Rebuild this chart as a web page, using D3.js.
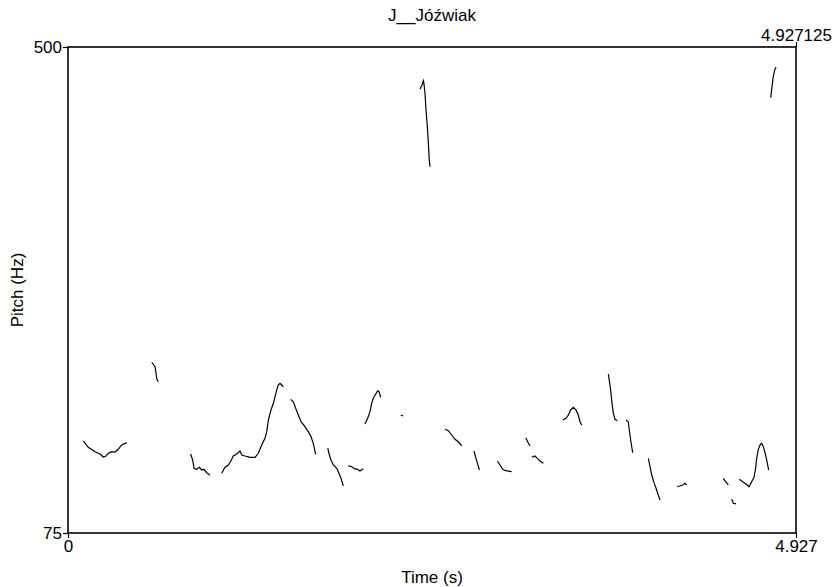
<!DOCTYPE html>
<html>
<head>
<meta charset="utf-8">
<script src="https://cdn.jsdelivr.net/npm/d3@7"></script>
<style>
body{margin:0;background:#fff;}
text{font-family:"Liberation Sans",Arial,sans-serif;font-size:17px;fill:#000;}
</style>
</head>
<body>
<svg id="chart"></svg>
<script>
var chartTitle = "J__Jóźwiak";
var timeRange = [0, 4.927125];//whole sound
var pitchRange = [75, 500];//Hz
var xTickLabels = ["0", "4.927"];
var yTickLabels = ["75", "500"];
var topRightLabel = "4.927125";

//pitch track, null = unvoiced frame (breaks the line)
var pitchTime = [
0.104,0.137,0.183,0.217,0.239,0.257,0.273,0.296,0.318,0.340,0.363,0.397,null,
0.567,0.589,0.596,0.600,0.611,null,
0.830,0.844,0.853,0.871,0.889,0.905,0.920,0.939,0.961,null,
1.040,1.063,1.085,1.103,1.119,1.142,1.164,1.176,1.198,1.232,1.266,1.288,1.311,1.333,1.345,1.356,1.374,1.390,1.401,1.413,1.423,1.435,1.446,1.457,null,
1.507,1.525,1.541,1.559,1.577,1.604,1.626,1.645,1.660,1.676,null,
1.758,1.769,1.780,1.796,1.819,1.834,1.848,1.863,null,
1.897,1.920,1.942,1.961,1.976,1.999,null,
2.010,2.028,2.044,2.055,2.066,2.083,2.096,2.105,2.116,null,
2.252,2.269,null,
2.382,2.396,2.405,2.409,2.416,2.423,2.432,2.439,2.445,2.450,null,
2.552,2.574,2.597,2.619,2.642,2.665,null,
2.748,2.761,2.773,2.784,null,
2.906,2.924,2.942,2.964,3.003,null,
3.098,3.111,3.127,null,
3.138,3.161,3.176,3.195,3.217,null,
3.348,3.371,3.386,3.402,3.420,3.438,3.454,3.465,3.477,null,
3.657,3.668,3.675,3.682,3.691,3.702,3.718,null,
3.777,3.792,3.799,3.808,3.822,null,
3.928,3.939,3.951,3.966,3.980,3.995,4.007,null,
4.124,4.142,4.160,4.176,4.187,null,
4.435,4.451,4.469,null,
4.492,4.503,4.521,null,
4.543,4.566,4.589,4.609,4.627,4.643,4.654,4.661,4.672,4.684,4.695,4.706,4.719,4.729,4.742,null,
4.756,4.765,4.773,4.783,4.792
];
var pitchHz = [
155.5,149.9,146.1,144.1,141.5,142.3,144.7,146.1,145.8,148.2,152.0,154.0,null,
224.3,220.4,214.7,210.3,207.3,null,
144.1,138.8,131.6,130.7,132.5,130.1,130.7,127.7,125.7,null,
127.2,132.5,134.5,138.2,142.3,144.1,146.7,143.2,142.3,141.2,141.2,144.7,152.0,157.8,163.6,173.8,182.6,188.4,194.2,200.1,204.4,205.9,204.4,202.9,null,
191.9,189.8,184.1,178.2,172.3,168.0,163.6,159.2,153.4,143.8,null,
149.1,143.2,138.8,134.5,131.6,127.2,122.8,116.1,null,
133.9,133.0,131.0,130.7,129.2,131.2,null,
170.3,175.3,181.1,188.4,192.8,196.6,199.4,198.6,193.7,null,
178.2,177.3,null,
463.0,466.8,470.5,468.3,459.5,444.9,430.3,415.8,401.2,395.3,null,
165.7,164.5,160.7,156.9,154.8,151.3,null,
146.7,140.3,135.3,130.1,null,
138.0,134.5,130.7,129.5,128.6,null,
158.3,154.8,151.1,null,
141.2,142.3,140.3,138.0,136.0,null,
173.8,175.3,178.2,182.6,184.9,182.6,178.2,172.3,169.4,null,
214.0,204.4,197.2,188.4,179.7,174.4,173.2,null,
173.8,172.3,165.1,156.3,145.2,null,
140.3,133.0,125.7,119.0,114.1,108.2,103.9,null,
115.5,116.1,117.0,118.5,117.0,null,
122.8,119.9,117.0,null,
104.5,101.0,100.4,null,
122.0,119.9,117.9,115.5,119.9,123.7,131.6,140.3,148.2,152.0,153.4,150.5,144.7,138.8,130.1,null,
455.7,465.3,474.0,479.9,482.3
];

function drawPitch(id){
    var svgWidth = 840;
    var svgHeight = 587;
    var left = 68, right = 796, top = 47, bottom = 533;
    var tickLen = 5;

    var svg = d3.select(id)
    .attr("width", svgWidth)
    .attr("height", svgHeight);

    var x = d3.scaleLinear().domain(timeRange).range([left, right]);
    var y = d3.scaleLinear().domain(pitchRange).range([bottom, top]);

    //frame
    svg.append("rect")
    .attr("x", left).attr("y", top)
    .attr("width", right - left).attr("height", bottom - top)
    .attr("fill", "none").attr("stroke", "#000").attr("stroke-width", 1.6);

    var pts = pitchTime.map(function(t, i){ return [t, pitchHz[i]]; });
    var line = d3.line()
    .defined(function(d){ return d[0] != null && d[1] != null; })
    .x(function(d){ return x(d[0]); })
    .y(function(d){ return y(d[1]); });

    svg.append("path")
    .datum(pts)
    .attr("d", line)
    .attr("fill", "none")
    .attr("stroke", "#000")
    .attr("stroke-width", 1.2);

    //left axis, only end values
    var yAxis = d3.axisLeft(y)
    .tickValues(pitchRange)
    .tickFormat(function(d, i){ return yTickLabels[i]; })
    .tickSize(tickLen).tickPadding(1);
    var gy = svg.append("g").attr("transform", "translate(" + left + ",0)").call(yAxis);

    var xAxis = d3.axisBottom(x)
    .tickValues(timeRange)
    .tickFormat(function(d, i){ return xTickLabels[i]; })
    .tickSize(tickLen).tickPadding(2);
    var gx = svg.append("g").attr("transform", "translate(0," + bottom + ")").call(xAxis);

    var xTop = d3.axisTop(x)
    .tickValues([timeRange[1]])
    .tickFormat(function(){ return topRightLabel; })
    .tickSize(tickLen).tickPadding(1);
    var gt = svg.append("g").attr("transform", "translate(0," + top + ")").call(xTop);

    [gx, gy, gt].forEach(function(g){
        g.select(".domain").remove();
        g.selectAll("line").attr("stroke", "#000").attr("stroke-width", 1.2);
        g.selectAll("text").attr("font-size", null).attr("font-family", null);
        g.attr("font-size", null).attr("font-family", null);
    });

    svg.append("text")
    .attr("x", (left + right) / 2).attr("y", 21)
    .attr("text-anchor", "middle")
    .text(chartTitle);

    svg.append("text")
    .attr("x", (left + right) / 2).attr("y", 583)
    .attr("text-anchor", "middle")
    .text("Time (s)");

    svg.append("text")
    .attr("transform", "translate(23," + (top + bottom) / 2 + ") rotate(-90)")
    .attr("text-anchor", "middle")
    .text("Pitch (Hz)");
}

drawPitch("#chart");
</script>
</body>
</html>
